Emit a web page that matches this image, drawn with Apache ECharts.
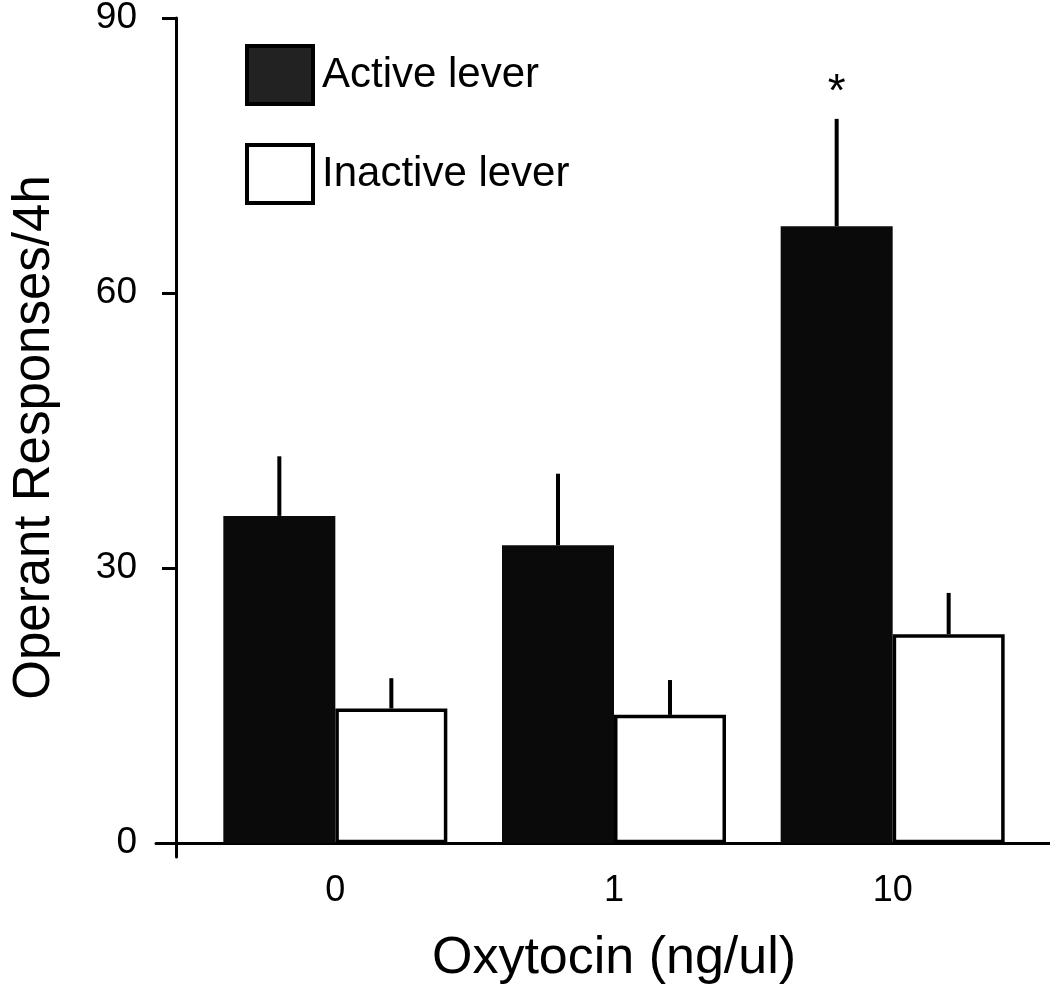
<!DOCTYPE html>
<html><head><meta charset="utf-8">
<script src="https://cdn.jsdelivr.net/npm/echarts@6/dist/echarts.min.js"></script>
<style>html,body{margin:0;padding:0;background:#fff}#c{width:1050px;height:988px}</style>
</head><body><div id="c"></div>
<script>
// ---- data ----
const categories = ['0', '1', '10'];
const activeMean = [35.7, 32.5, 67.3];
const activeErr = [6.5, 7.8, 11.7];
const inactiveMean = [14.7, 14.0, 22.8];
const inactiveErr = [3.3, 3.8, 4.5];
const significance = ['', '', '*'];
const yTicks = [0, 30, 60, 90];
const seriesNames = ['Active lever', 'Inactive lever'];
const xName = 'Oxytocin (ng/ul)';
const yName = 'Operant Responses/4h';

// ---- style ----
const FONT = "'Liberation Sans', Arial, Helvetica, sans-serif";
const BAR_W = 112;

function errSeries(name, means, errs, offset, marks) {
  return {
    type: 'custom', name: name + ' err', xAxisIndex: 0, yAxisIndex: 0, z: 5,
    silent: true,
    data: categories.map((c, i) => [i, means[i], errs[i]]),
    renderItem: function (params, api) {
      const x = api.value(0), m = api.value(1), e = api.value(2);
      const p0 = api.coord([x, m]);
      const p1 = api.coord([x, m + e]);
      const cx = p0[0] + offset;
      const children = [{
        type: 'line',
        shape: { x1: cx, y1: p0[1], x2: cx, y2: p1[1] },
        style: { stroke: '#000', lineWidth: 4 }
      }];
      const mark = marks ? marks[params.dataIndex] : '';
      if (mark) {
        children.push({
          type: 'text',
          x: cx, y: p1[1] - 26,
          style: { text: mark, fill: '#000', font: '46px ' + FONT, align: 'center', verticalAlign: 'middle' }
        });
      }
      return { type: 'group', children: children };
    }
  };
}

const chart = echarts.init(document.getElementById('c'), null, { renderer: 'canvas' });
chart.setOption({
  backgroundColor: '#fff',
  animation: false,
  textStyle: { fontFamily: FONT, color: '#000' },
  legend: {
    orient: 'vertical', left: 240, top: 39,
    itemWidth: 66, itemHeight: 58, itemGap: 37,
    icon: 'rect',
    textStyle: { fontSize: 42, color: '#000', fontFamily: FONT, padding: [0, 0, 0, 4] },
    data: [
      { name: seriesNames[0], itemStyle: { color: '#222', borderColor: '#000', borderWidth: 4 } },
      { name: seriesNames[1], itemStyle: { color: '#fff', borderColor: '#000', borderWidth: 4 } }
    ]
  },
  grid: [
    { left: 196, right: 18, top: 18, bottom: 131, outerBoundsMode: 'none', containLabel: false },
    { left: 156, right: 0, top: 18, bottom: 145, outerBoundsMode: 'none', containLabel: false }
  ],
  xAxis: [
    {
      type: 'category', gridIndex: 0, data: categories,
      axisLine: { show: false, onZero: false }, axisTick: { show: false },
      axisLabel: { fontSize: 36, color: '#000', margin: 16, fontFamily: FONT },
      name: xName, nameLocation: 'middle', nameGap: 76,
      nameTextStyle: { fontSize: 52, color: '#000', fontFamily: FONT }
    },
    {
      type: 'value', gridIndex: 1, min: 0, max: 1,
      axisLine: { show: true, onZero: false, lineStyle: { color: '#000', width: 3 } },
      axisTick: { show: false }, axisLabel: { show: false }, splitLine: { show: false }
    }
  ],
  yAxis: [
    {
      type: 'value', gridIndex: 0, min: -1.5, max: 90, offset: 20,
      axisLine: { show: true, lineStyle: { color: '#000', width: 3 } },
      axisTick: { show: true, customValues: yTicks, length: 14, lineStyle: { color: '#000', width: 3 } },
      axisLabel: { customValues: yTicks, fontSize: 37, color: '#000', margin: 39, fontFamily: FONT, padding: [7, 0, 0, 0] },
      splitLine: { show: false },
      name: yName, nameLocation: 'middle', nameGap: 116,
      nameTextStyle: { fontSize: 51, color: '#000', fontFamily: FONT }
    },
    { type: 'value', gridIndex: 1, min: 0, max: 1, show: false }
  ],
  series: [
    {
      name: seriesNames[0], type: 'bar', xAxisIndex: 0, yAxisIndex: 0,
      data: activeMean, barWidth: BAR_W, barGap: '0%', z: 2,
      itemStyle: { color: '#0a0a0a', borderColor: '#000', borderWidth: 0 }
    },
    {
      name: seriesNames[1], type: 'bar', xAxisIndex: 0, yAxisIndex: 0,
      data: inactiveMean, barWidth: BAR_W, barGap: '0%', z: 3,
      itemStyle: { color: '#fff', borderColor: '#000', borderWidth: 3.5 }
    },
    errSeries(seriesNames[0], activeMean, activeErr, -BAR_W / 2, significance),
    errSeries(seriesNames[1], inactiveMean, inactiveErr, BAR_W / 2, null)
  ]
});
</script>
</body></html>
